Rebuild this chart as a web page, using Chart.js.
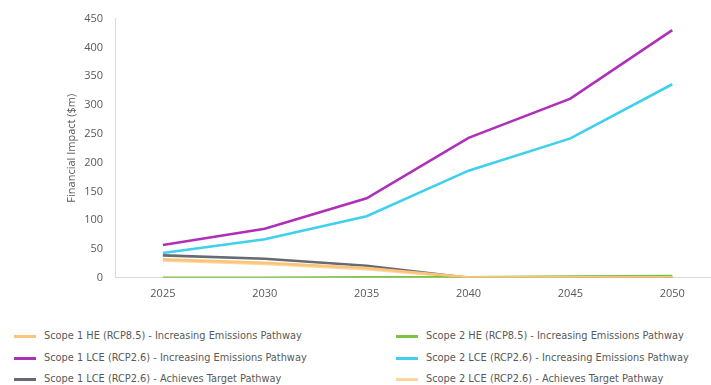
<!DOCTYPE html>
<html>
<head>
<meta charset="utf-8">
<script src="https://cdn.jsdelivr.net/npm/chart.js@4.4.1/dist/chart.umd.min.js"></script>
<style>
  html, body { margin: 0; padding: 0; background: #fff; overflow: hidden; }
  #wrap { position: relative; width: 711px; height: 309px; }
  #legend {
    position: absolute; left: 0; top: 326px; width: 711px;
    font-family: "Liberation Sans Narrow", "DejaVu Sans Condensed", "DejaVu Sans", sans-serif;
    font-stretch: condensed;
    font-size: 10.9px; color: #595959;
  }
  .item { position: absolute; height: 20px; line-height: 20px; white-space: nowrap; }
  .item span.swatch { position: absolute; left: 0; top: 9px; width: 22px; height: 3px; }
  .item span.text { position: absolute; left: 30px; top: 0; }
</style>
</head>
<body>
<div id="wrap"><canvas id="lineChart" width="711" height="309"></canvas></div>
<div id="legend"></div>
<script>
// chart data
const years = [2025, 2030, 2035, 2040, 2045, 2050];
const yTicks = [0, 50, 100, 150, 200, 250, 300, 350, 400, 450];

const scope1HE = [32, 26, 17, 1, 1, 1];          // Scope 1 HE (RCP8.5) - Increasing Emissions Pathway
const scope2HE = [0, 0, 1, 1, 2, 3];             // Scope 2 HE (RCP8.5) - Increasing Emissions Pathway
const scope1LCEInc = [57, 85, 138, 243, 311, 430]; // Scope 1 LCE (RCP2.6) - Increasing Emissions Pathway
const scope2LCEInc = [43, 67, 107, 186, 242, 336]; // Scope 2 LCE (RCP2.6) - Increasing Emissions Pathway
const scope1LCEAch = [39, 33, 21, 0, 0, 0];      // Scope 1 LCE (RCP2.6) - Achieves Target Pathway
const scope2LCEAch = [30, 24, 15, 0, 0, 0];      // Scope 2 LCE (RCP2.6) - Achieves Target Pathway

const seriesNames = [
  'Scope 1 HE (RCP8.5) - Increasing Emissions Pathway',
  'Scope 2 HE (RCP8.5) - Increasing Emissions Pathway',
  'Scope 1 LCE (RCP2.6) - Increasing Emissions Pathway',
  'Scope 2 LCE (RCP2.6) - Increasing Emissions Pathway',
  'Scope 1 LCE (RCP2.6) - Achieves Target Pathway',
  'Scope 2 LCE (RCP2.6) - Achieves Target Pathway'
];
const seriesValues = [scope1HE, scope2HE, scope1LCEInc, scope2LCEInc, scope1LCEAch, scope2LCEAch];
const seriesColors = ['#F9C57C', '#7CC243', '#AE30B8', '#3ED0EC', '#676A72', '#FFD699'];

const tickColor = '#595959';
const fontFamily = '"Open Sans", "Segoe UI", sans-serif';

const datasets = seriesNames.map((name, i) => ({
  label: name,
  data: years.map((y, j) => ({ x: y, y: seriesValues[i][j] })),
  borderColor: seriesColors[i],
  backgroundColor: seriesColors[i],
  borderWidth: 2.6,
  pointRadius: 0,
  tension: 0,
  fill: false
}));

const chart = new Chart(document.getElementById('lineChart').getContext('2d'), {
  type: 'line',
  data: { datasets },
  options: {
    responsive: false,
    animation: false,
    layout: { padding: { left: 60, top: 10, right: 0, bottom: 0 } },
    plugins: {
      legend: { display: false },
      tooltip: { enabled: false }
    },
    scales: {
      x: {
        type: 'linear',
        min: 2022.65,
        max: 2051.9,
        grid: { display: false, drawTicks: false },
        border: { color: '#D9D9D9', width: 1 },
        afterBuildTicks: (scale) => { scale.ticks = years.map(v => ({ value: v })); },
        ticks: {
          color: tickColor,
          padding: 9,
          font: { family: fontFamily, size: 11 },
          callback: (v) => String(v)
        }
      },
      y: {
        min: 0,
        max: 450,
        grid: { display: false, drawTicks: false },
        border: { color: '#D9D9D9', width: 1 },
        afterBuildTicks: (scale) => { scale.ticks = yTicks.map(v => ({ value: v })); },
        afterFit: (scale) => { scale.width = 55; },
        ticks: {
          color: tickColor,
          padding: 12,
          font: { family: fontFamily, size: 11 }
        },
        title: {
          display: true,
          text: 'Financial Impact ($m)',
          color: tickColor,
          padding: { top: 5, bottom: 0 },
          font: { family: fontFamily, size: 11 }
        }
      }
    }
  }
});

// two-column legend below the chart, built from the chart's datasets
const legend = document.getElementById('legend');
chart.data.datasets.forEach((ds, i) => {
  const item = document.createElement('div');
  item.className = 'item';
  item.style.left = (i % 2 === 0 ? 14 : 396) + 'px';
  item.style.top = (Math.floor(i / 2) * 21.5) + 'px';
  const sw = document.createElement('span');
  sw.className = 'swatch';
  sw.style.background = ds.borderColor;
  const tx = document.createElement('span');
  tx.className = 'text';
  tx.textContent = ds.label;
  item.appendChild(sw);
  item.appendChild(tx);
  legend.appendChild(item);
});
</script>
</body>
</html>
